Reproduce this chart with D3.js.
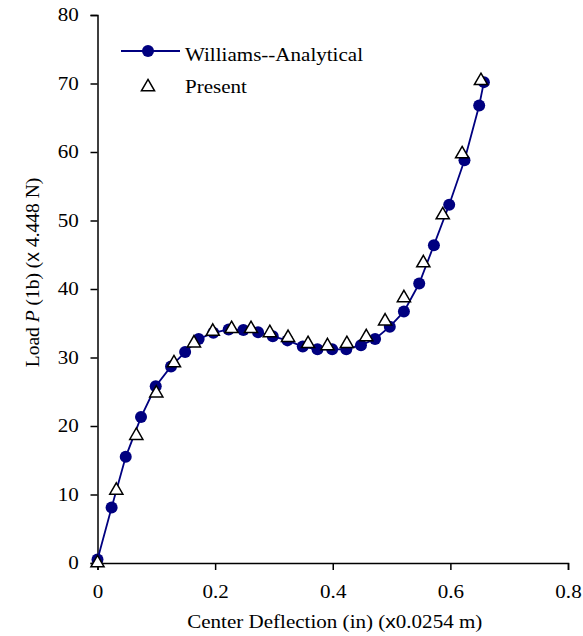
<!DOCTYPE html>
<html>
<head>
<meta charset="utf-8">
<script src="https://cdn.jsdelivr.net/npm/d3@7"></script>
<style>
  body { margin: 0; background: #fff; }
  svg text { font-family: "Liberation Serif", "Times New Roman", Times, serif; }
  svg tspan.sx { font-family: "Liberation Sans", Arial, sans-serif; }
</style>
</head>
<body>
<div id="chart"></div>
<script>
// Williams analytical solution (circles + line)
const williamsX = [0, 0.024, 0.048, 0.074, 0.099, 0.125, 0.149, 0.172, 0.197, 0.223, 0.248, 0.273,
  0.298, 0.323, 0.349, 0.374, 0.399, 0.423, 0.448, 0.472, 0.497, 0.521, 0.547, 0.572, 0.598, 0.624, 0.649, 0.657];
const williamsY = [0.5, 8.1, 15.5, 21.3, 25.8, 28.7, 30.8, 32.7, 33.6, 34.1, 34.0, 33.7,
  33.1, 32.5, 31.6, 31.2, 31.2, 31.2, 31.8, 32.7, 34.5, 36.7, 40.8, 46.4, 52.3, 58.8, 66.8, 70.2];

// Present results (triangles)
const presentX = [0, 0.032, 0.066, 0.100, 0.130, 0.164, 0.196, 0.228, 0.261, 0.293, 0.324, 0.358,
  0.391, 0.424, 0.457, 0.489, 0.521, 0.554, 0.587, 0.620, 0.652];
const presentY = [0, 10.6, 18.6, 24.8, 29.2, 32.1, 33.8, 34.2, 34.2, 33.6, 32.9, 32.0,
  31.7, 32.0, 33.0, 35.3, 38.7, 43.8, 50.8, 59.7, 70.4];

const xTicks = [0, 0.2, 0.4, 0.6, 0.8];
const yTicks = [0, 10, 20, 30, 40, 50, 60, 70, 80];

const width = 583, height = 636;
const margin = { left: 97.5, right: 15, top: 15, bottom: 73 };
const serif = "'Liberation Serif', 'Times New Roman', serif";
const stretch = 1.17; // the original text is slightly wide

const svg = d3.select("#chart").append("svg")
  .attr("width", width)
  .attr("height", height)
  .attr("font-family", serif);

const x = d3.scaleLinear().domain([0, 0.8]).range([margin.left, width - margin.right]);
const y = d3.scaleLinear().domain([0, 80]).range([height - margin.bottom, margin.top]);

// axes
svg.append("g")
  .attr("transform", `translate(0,${y(0)})`)
  .call(d3.axisBottom(x).tickValues(xTicks).tickSize(7).tickPadding(15)
    .tickFormat(d => d === 0 ? "0" : d3.format(".1f")(d)))
  .attr("font-family", serif).attr("font-size", 18)
  .call(g => g.selectAll("path, line").attr("stroke", "#000").attr("stroke-width", 1.5))
  .call(g => g.selectAll("text").attr("fill", "#000").attr("transform", `scale(${stretch},1)`));

svg.append("g")
  .attr("transform", `translate(${x(0)},0)`)
  .call(d3.axisLeft(y).tickValues(yTicks).tickSize(7).tickPadding(9))
  .attr("font-family", serif).attr("font-size", 18)
  .call(g => g.selectAll("path, line").attr("stroke", "#000").attr("stroke-width", 1.5))
  .call(g => g.selectAll("text").attr("fill", "#000").attr("transform", `scale(${stretch},1)`));

// axis labels
const xl = svg.append("text")
  .attr("transform", `translate(${(x(0) + x(0.8)) / 2 + 2},628) scale(${stretch},1)`)
  .attr("text-anchor", "middle")
  .attr("font-size", 18);
xl.append("tspan").text("Center Deflection (in) (");
xl.append("tspan").attr("class", "sx").text("x");
xl.append("tspan").text("0.0254 m)");

const yl = svg.append("text")
  .attr("transform", "translate(39,272.5) rotate(-90)")
  .attr("text-anchor", "middle")
  .attr("font-size", 19.5);
yl.append("tspan").text("Load ");
yl.append("tspan").attr("font-style", "italic").text("P");
yl.append("tspan").text(" (1b) (");
yl.append("tspan").attr("class", "sx").text("x");
yl.append("tspan").text(" 4.448 N)");

// data
const williams = williamsX.map((d, i) => [d, williamsY[i]]);
const present = presentX.map((d, i) => [d, presentY[i]]);

const navy = "#000080";

svg.append("path")
  .datum(williams)
  .attr("fill", "none")
  .attr("stroke", navy)
  .attr("stroke-width", 1.8)
  .attr("d", d3.line().x(d => x(d[0])).y(d => y(d[1])));

svg.append("g").selectAll("circle")
  .data(williams)
  .join("circle")
  .attr("cx", d => x(d[0]))
  .attr("cy", d => y(d[1]))
  .attr("r", 6)
  .attr("fill", navy);

const tri = d3.symbol().type(d3.symbolTriangle).size(75);

svg.append("g").selectAll("path")
  .data(present)
  .join("path")
  .attr("transform", d => `translate(${x(d[0])},${y(d[1])})`)
  .attr("d", tri)
  .attr("fill", "#fff")
  .attr("stroke", "#000")
  .attr("stroke-width", 1.5);

// legend
const lg = svg.append("g");
lg.append("line")
  .attr("x1", 121).attr("x2", 180)
  .attr("y1", 51).attr("y2", 51)
  .attr("stroke", navy).attr("stroke-width", 1.8);
lg.append("circle").attr("cx", 148).attr("cy", 51).attr("r", 6).attr("fill", navy);
lg.append("text").attr("transform", `translate(185,61) scale(${stretch},1)`)
  .attr("font-size", 18).text("Williams--Analytical");
lg.append("path")
  .attr("transform", "translate(148,87)")
  .attr("d", tri)
  .attr("fill", "#fff").attr("stroke", "#000").attr("stroke-width", 1.5);
lg.append("text").attr("transform", `translate(185,93) scale(${stretch},1)`)
  .attr("font-size", 18).text("Present");
</script>
</body>
</html>
